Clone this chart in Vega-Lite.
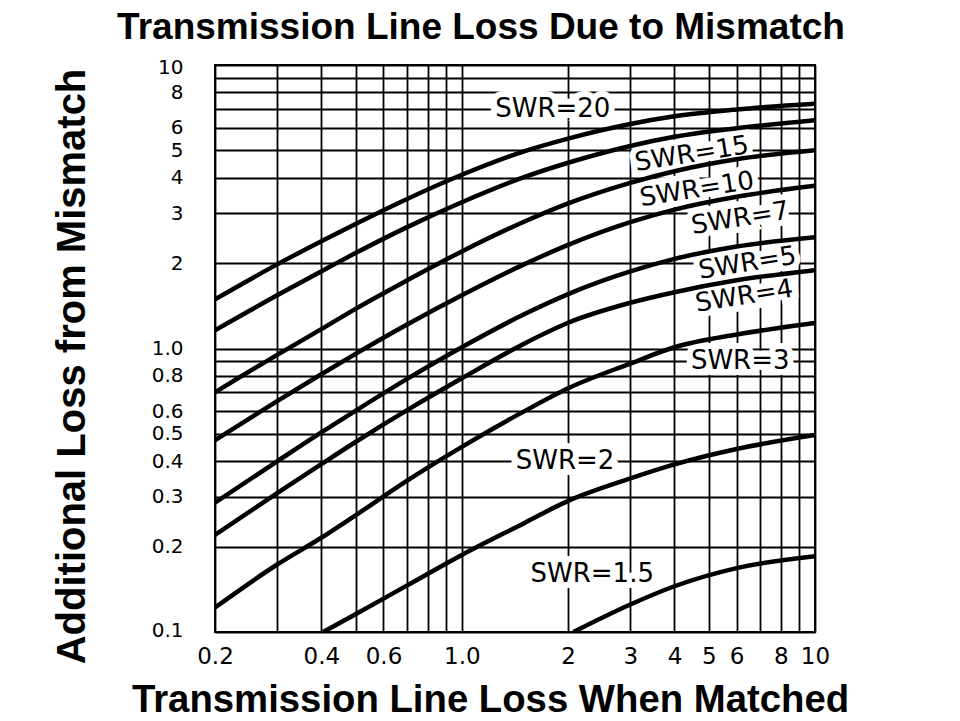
{
  "$schema": "https://vega.github.io/schema/vega-lite/v6.json",
  "width": 600,
  "height": 567,
  "autosize": {"type": "none"},
  "padding": {"left": 215, "top": 65, "right": 145, "bottom": 89},
  "background": "white",
  "title": {
    "text": "Transmission Line Loss Due to Mismatch",
    "font": "Liberation Sans",
    "fontSize": 37,
    "fontWeight": "bold",
    "color": "black",
    "anchor": "middle",
    "frame": "group",
    "baseline": "middle",
    "offset": -8,
    "dx": -34
  },
  "config": {
    "view": {"stroke": "black", "strokeWidth": 2},
    "axis": {
      "grid": true,
      "gridColor": "black",
      "gridOpacity": 1,
      "gridWidth": 1.8,
      "ticks": false,
      "domain": false,
      "labelFont": "DejaVu Sans",
      "labelFontSize": 23,
      "labelColor": "black",
      "labelOverlap": false,
      "titleFont": "Liberation Sans",
      "titleFontWeight": "bold",
      "titleColor": "black",
      "titleFontSize": 38
    }
  },
  "datasets": {
    "curves": [
      {"swr": "20", "matched": 0.2, "additional": 1.49},
      {"swr": "20", "matched": 0.3, "additional": 1.98},
      {"swr": "20", "matched": 0.4, "additional": 2.39},
      {"swr": "20", "matched": 0.5, "additional": 2.75},
      {"swr": "20", "matched": 0.7, "additional": 3.37},
      {"swr": "20", "matched": 1.0, "additional": 4.1},
      {"swr": "20", "matched": 1.5, "additional": 4.96},
      {"swr": "20", "matched": 2.0, "additional": 5.5},
      {"swr": "20", "matched": 3.0, "additional": 6.19},
      {"swr": "20", "matched": 4.0, "additional": 6.59},
      {"swr": "20", "matched": 6.0, "additional": 6.97},
      {"swr": "20", "matched": 10.0, "additional": 7.3},

      {"swr": "15", "matched": 0.2, "additional": 1.16},
      {"swr": "15", "matched": 0.3, "additional": 1.54},
      {"swr": "15", "matched": 0.4, "additional": 1.87},
      {"swr": "15", "matched": 0.5, "additional": 2.17},
      {"swr": "15", "matched": 0.7, "additional": 2.68},
      {"swr": "15", "matched": 1.0, "additional": 3.28},
      {"swr": "15", "matched": 1.5, "additional": 4.02},
      {"swr": "15", "matched": 2.0, "additional": 4.52},
      {"swr": "15", "matched": 3.0, "additional": 5.18},
      {"swr": "15", "matched": 4.0, "additional": 5.58},
      {"swr": "15", "matched": 6.0, "additional": 5.98},
      {"swr": "15", "matched": 10.0, "additional": 6.38},

      {"swr": "10", "matched": 0.2, "additional": 0.7},
      {"swr": "10", "matched": 0.3, "additional": 0.95},
      {"swr": "10", "matched": 0.4, "additional": 1.17},
      {"swr": "10", "matched": 0.5, "additional": 1.38},
      {"swr": "10", "matched": 0.7, "additional": 1.74},
      {"swr": "10", "matched": 1.0, "additional": 2.2},
      {"swr": "10", "matched": 1.5, "additional": 2.8},
      {"swr": "10", "matched": 2.0, "additional": 3.25},
      {"swr": "10", "matched": 3.0, "additional": 3.84},
      {"swr": "10", "matched": 4.0, "additional": 4.22},
      {"swr": "10", "matched": 6.0, "additional": 4.65},
      {"swr": "10", "matched": 10.0, "additional": 5.0},

      {"swr": "7", "matched": 0.2, "additional": 0.475},
      {"swr": "7", "matched": 0.3, "additional": 0.652},
      {"swr": "7", "matched": 0.4, "additional": 0.811},
      {"swr": "7", "matched": 0.5, "additional": 0.957},
      {"swr": "7", "matched": 0.7, "additional": 1.215},
      {"swr": "7", "matched": 1.0, "additional": 1.54},
      {"swr": "7", "matched": 1.5, "additional": 1.98},
      {"swr": "7", "matched": 2.0, "additional": 2.32},
      {"swr": "7", "matched": 3.0, "additional": 2.79},
      {"swr": "7", "matched": 4.0, "additional": 3.09},
      {"swr": "7", "matched": 6.0, "additional": 3.43},
      {"swr": "7", "matched": 10.0, "additional": 3.75},

      {"swr": "5", "matched": 0.2, "additional": 0.286},
      {"swr": "5", "matched": 0.3, "additional": 0.4},
      {"swr": "5", "matched": 0.4, "additional": 0.506},
      {"swr": "5", "matched": 0.5, "additional": 0.603},
      {"swr": "5", "matched": 0.7, "additional": 0.781},
      {"swr": "5", "matched": 1.0, "additional": 1.01},
      {"swr": "5", "matched": 1.5, "additional": 1.32},
      {"swr": "5", "matched": 2.0, "additional": 1.556},
      {"swr": "5", "matched": 3.0, "additional": 1.87},
      {"swr": "5", "matched": 4.0, "additional": 2.07},
      {"swr": "5", "matched": 6.0, "additional": 2.29},
      {"swr": "5", "matched": 10.0, "additional": 2.47},

      {"swr": "4", "matched": 0.2, "additional": 0.22},
      {"swr": "4", "matched": 0.3, "additional": 0.309},
      {"swr": "4", "matched": 0.4, "additional": 0.391},
      {"swr": "4", "matched": 0.5, "additional": 0.468},
      {"swr": "4", "matched": 0.7, "additional": 0.606},
      {"swr": "4", "matched": 1.0, "additional": 0.785},
      {"swr": "4", "matched": 1.5, "additional": 1.04},
      {"swr": "4", "matched": 2.0, "additional": 1.233},
      {"swr": "4", "matched": 3.0, "additional": 1.45},
      {"swr": "4", "matched": 4.0, "additional": 1.58},
      {"swr": "4", "matched": 6.0, "additional": 1.74},
      {"swr": "4", "matched": 10.0, "additional": 1.89},

      {"swr": "3", "matched": 0.2, "additional": 0.122},
      {"swr": "3", "matched": 0.3, "additional": 0.173},
      {"swr": "3", "matched": 0.4, "additional": 0.215},
      {"swr": "3", "matched": 0.5, "additional": 0.258},
      {"swr": "3", "matched": 0.7, "additional": 0.342},
      {"swr": "3", "matched": 1.0, "additional": 0.45},
      {"swr": "3", "matched": 1.5, "additional": 0.6},
      {"swr": "3", "matched": 2.0, "additional": 0.724},
      {"swr": "3", "matched": 3.0, "additional": 0.885},
      {"swr": "3", "matched": 4.0, "additional": 1.01},
      {"swr": "3", "matched": 6.0, "additional": 1.12},
      {"swr": "3", "matched": 10.0, "additional": 1.23},

      {"swr": "2", "matched": 0.405, "additional": 0.1},
      {"swr": "2", "matched": 0.5, "additional": 0.1155},
      {"swr": "2", "matched": 0.7, "additional": 0.146},
      {"swr": "2", "matched": 1.0, "additional": 0.187},
      {"swr": "2", "matched": 1.5, "additional": 0.242},
      {"swr": "2", "matched": 2.0, "additional": 0.29},
      {"swr": "2", "matched": 3.0, "additional": 0.348},
      {"swr": "2", "matched": 4.0, "additional": 0.39},
      {"swr": "2", "matched": 6.0, "additional": 0.442},
      {"swr": "2", "matched": 10.0, "additional": 0.495},

      {"swr": "1.5", "matched": 2.07, "additional": 0.1},
      {"swr": "1.5", "matched": 3.0, "additional": 0.125},
      {"swr": "1.5", "matched": 4.0, "additional": 0.145},
      {"swr": "1.5", "matched": 6.0, "additional": 0.168},
      {"swr": "1.5", "matched": 10.0, "additional": 0.185}
    ],
    "labels": [
      {"label": "SWR=20", "matched": 1.81, "additional": 7.0},
      {"label": "SWR=15", "matched": 4.48, "additional": 4.85},
      {"label": "SWR=10", "matched": 4.63, "additional": 3.64},
      {"label": "SWR=7", "matched": 6.14, "additional": 2.88},
      {"label": "SWR=5", "matched": 6.44, "additional": 2.0},
      {"label": "SWR=4", "matched": 6.3, "additional": 1.53},
      {"label": "SWR=3", "matched": 6.14, "additional": 0.9},
      {"label": "SWR=2", "matched": 1.96, "additional": 0.4},
      {"label": "SWR=1.5", "matched": 2.34, "additional": 0.16}
    ]
  },
  "encoding": {
    "x": {
      "field": "matched",
      "type": "quantitative",
      "scale": {"type": "log", "domain": [0.2, 10], "nice": false},
      "axis": {
        "title": "Transmission Line Loss When Matched",
        "values": [0.2, 0.3, 0.4, 0.5, 0.6, 0.7, 0.8, 0.9, 1, 2, 3, 4, 5, 6, 7, 8, 9, 10],
        "labelExpr": "indexof([0.2, 0.4, 0.6, 1, 2, 3, 4, 5, 6, 8, 10], datum.value) >= 0 ? (datum.value == 1 ? '1.0' : (datum.value < 1 ? format(datum.value, '.1f') : format(datum.value, 'd'))) : ''",
        "labelPadding": 13,
        "labelFlush": false,
        "titleX": 275,
        "titleY": 68,
        "titleAlign": "center",
        "titleBaseline": "middle",
        "titleFontSize": 38.3
      }
    },
    "y": {
      "field": "additional",
      "type": "quantitative",
      "scale": {"type": "log", "domain": [0.1, 10], "nice": false},
      "axis": {
        "title": "Additional Loss from Mismatch",
        "values": [0.1, 0.2, 0.3, 0.4, 0.5, 0.6, 0.7, 0.8, 0.9, 1, 2, 3, 4, 5, 6, 7, 8, 9, 10],
        "labelExpr": "indexof([0.1, 0.2, 0.3, 0.4, 0.5, 0.6, 0.8, 1, 2, 3, 4, 5, 6, 8, 10], datum.value) >= 0 ? (datum.value == 1 ? '1.0' : (datum.value < 1 ? format(datum.value, '.1f') : format(datum.value, 'd'))) : ''",
        "labelFontSize": 20,
        "labelPadding": 32,
        "labelFlush": true,
        "labelFlushOffset": 8,
        "titleX": -143,
        "titleY": 301,
        "titleAngle": 270,
        "titleAlign": "center",
        "titleBaseline": "middle",
        "titleFontSize": 40
      }
    }
  },
  "layer": [
    {
      "data": {"name": "labels"},
      "transform": [{"filter": {"field": "label", "oneOf": ["SWR=20", "SWR=3", "SWR=2", "SWR=1.5"]}}],
      "mark": {"type": "text", "font": "DejaVu Sans", "fontSize": 26, "fill": "white", "stroke": "white", "strokeWidth": 12, "align": "center", "baseline": "middle"},
      "encoding": {"text": {"field": "label"}}
    },
    {
      "data": {"name": "labels"},
      "transform": [{"filter": {"field": "label", "oneOf": ["SWR=15", "SWR=10", "SWR=7", "SWR=5", "SWR=4"]}}],
      "mark": {"type": "text", "font": "DejaVu Sans", "fontSize": 26, "angle": 351, "fill": "white", "stroke": "white", "strokeWidth": 12, "align": "center", "baseline": "middle"},
      "encoding": {"text": {"field": "label"}}
    },
    {
      "data": {"name": "curves"},
      "mark": {"type": "line", "color": "black", "strokeWidth": 4.5, "interpolate": "monotone", "clip": true},
      "encoding": {"detail": {"field": "swr", "type": "nominal"}}
    },
    {
      "data": {"name": "labels"},
      "transform": [{"filter": {"field": "label", "oneOf": ["SWR=20", "SWR=3", "SWR=2", "SWR=1.5"]}}],
      "mark": {"type": "text", "font": "DejaVu Sans", "fontSize": 26, "color": "black", "align": "center", "baseline": "middle"},
      "encoding": {"text": {"field": "label"}}
    },
    {
      "data": {"name": "labels"},
      "transform": [{"filter": {"field": "label", "oneOf": ["SWR=15", "SWR=10", "SWR=7", "SWR=5", "SWR=4"]}}],
      "mark": {"type": "text", "font": "DejaVu Sans", "fontSize": 26, "angle": 351, "color": "black", "align": "center", "baseline": "middle"},
      "encoding": {"text": {"field": "label"}}
    }
  ]
}
